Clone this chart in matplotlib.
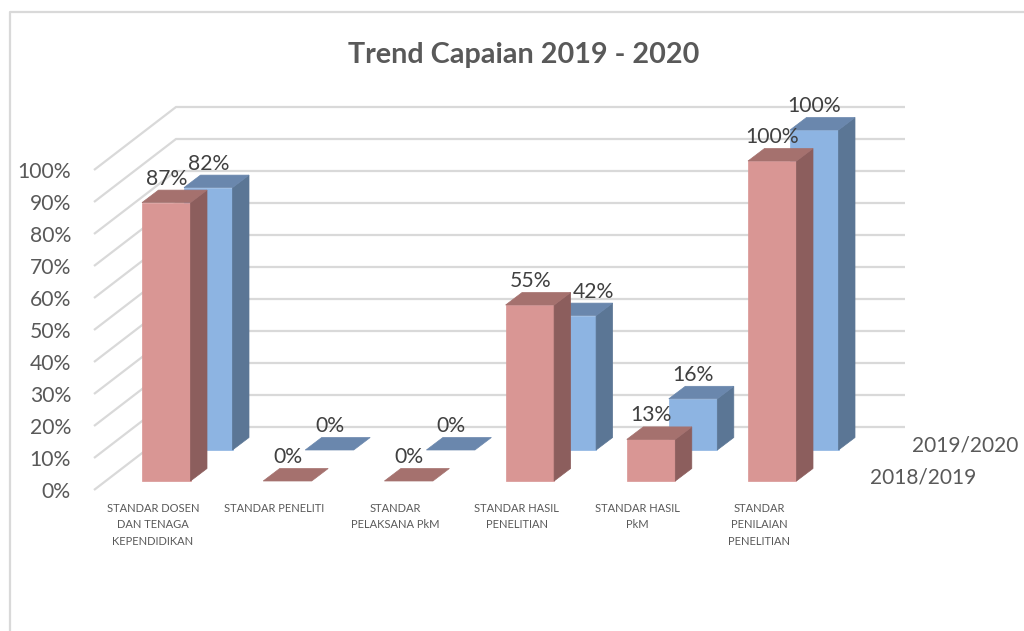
import matplotlib
matplotlib.use("Agg")
import matplotlib.pyplot as plt
from matplotlib.patches import Polygon
from matplotlib.lines import Line2D

plt.rcParams['font.family'] = ['Lato', 'DejaVu Sans']

# Chart data
categories = [
    "STANDAR DOSEN\nDAN TENAGA\nKEPENDIDIKAN",
    "STANDAR PENELITI",
    "STANDAR\nPELAKSANA PkM",
    "STANDAR HASIL\nPENELITIAN",
    "STANDAR HASIL\nPkM",
    "STANDAR\nPENILAIAN\nPENELITIAN",
]
values_2018_2019 = [87, 0, 0, 55, 13, 100]
values_2019_2020 = [82, 0, 0, 42, 16, 100]
percent_ticks = [0, 10, 20, 30, 40, 50, 60, 70, 80, 90, 100]
series_names = ["2018/2019", "2019/2020"]
title_text = "Trend Capaian 2019 - 2020"

# Axis scale: 121.2 px per category along x, 3.2 px per percent along y
W, H = 1024, 631
PX_X, PX_Y = 121.2, 3.2
X0_PX, Y0_PX = 142.0, 481.0


def dx(px):
    return px / PX_X


def dy(px):
    return -px / PX_Y


fig = plt.figure(figsize=(W / 100, H / 100), dpi=100, facecolor="white")
ax = fig.add_axes([0, 0, 1, 1])
ax.set_xlim(-X0_PX / PX_X, (W - X0_PX) / PX_X)
ax.set_ylim((Y0_PX - H) / PX_Y, Y0_PX / PX_Y)
ax.axis("off")

GRID = "#d9d9d9"
TEXT = "#595959"
LABEL = "#404040"

# Outer chart frame
frame_x = [dx(10) - X0_PX / PX_X, dx(10) - X0_PX / PX_X, (W - X0_PX) / PX_X]
frame_y = [(Y0_PX - H) / PX_Y, (Y0_PX - 12) / PX_Y, (Y0_PX - 12) / PX_Y]
ax.add_line(Line2D(frame_x, frame_y, color=GRID, lw=1.6, zorder=1))

# Floor-to-wall gridlines: a slanted run on the side wall, then along the back wall
left_x = dx(94 - X0_PX)
corner_x = dx(176 - X0_PX)
right_x = dx(905 - X0_PX)
for v in percent_ticks:
    front_y = v + dy(490 - Y0_PX)
    back_y = v + dy(427 - Y0_PX)
    ax.add_line(Line2D([left_x, corner_x, right_x], [front_y, back_y, back_y],
                       color=GRID, lw=1.6, zorder=1, solid_joinstyle="miter",
                       solid_capstyle="butt"))
    ax.text(dx(71 - X0_PX), front_y + dy(2.2), f"{v}%", ha="right", va="center",
            fontsize=15.2, color=TEXT, zorder=6)

BAR_W = dx(48.5)
DEPTH_X, DEPTH_Y = dx(16.5), dy(-12.5)


def draw_bar(pos, value, shift_x, shift_y, front, side, top, zorder, label_dx=0.0):
    x0 = pos + shift_x
    x1 = x0 + BAR_W
    y0 = shift_y
    y1 = shift_y + value
    edge = dict(linewidth=0.5, zorder=zorder, joinstyle="miter")
    if value > 0:
        ax.add_patch(Polygon([(x0, y0), (x1, y0), (x1, y1), (x0, y1)],
                             facecolor=front, edgecolor=front, **edge))
        ax.add_patch(Polygon([(x1, y0), (x1 + DEPTH_X, y0 + DEPTH_Y),
                              (x1 + DEPTH_X, y1 + DEPTH_Y), (x1, y1)],
                             facecolor=side, edgecolor=side, **edge))
    ax.add_patch(Polygon([(x0, y1), (x1, y1), (x1 + DEPTH_X, y1 + DEPTH_Y),
                          (x0 + DEPTH_X, y1 + DEPTH_Y)],
                         facecolor=top, edgecolor=top, **edge))
    ax.text(x0 + dx(24.5) + label_dx, y1 + dy(-24), f"{value}%", ha="center", va="center",
            fontsize=15.2, color=LABEL, zorder=7)


# Rear series first so the front row overlaps it
back_sx, back_sy = dx(42), dy(450 - Y0_PX)
for i, v in enumerate(values_2019_2020):
    # The 42% label is pushed right, clear of the taller front bar
    nudge = dx(21) if i == 3 else 0.0
    draw_bar(i, v, back_sx, back_sy, "#8db4e2", "#5b7695", "#6a87ad", 3, nudge)
for i, v in enumerate(values_2018_2019):
    draw_bar(i, v, 0, 0, "#d99694", "#8c5e5d", "#a5716e", 4)

# Category labels sit slightly left of the bars
for i, name in enumerate(categories):
    ax.text(i + dx(11), dy(510 - Y0_PX) + 2.2, name,
            ha="center", va="top", fontsize=8.0, color=TEXT,
            linespacing=1.6, zorder=6)

# Depth-axis series names
ax.text(dx(912 - X0_PX), dy(445 - Y0_PX), series_names[1], ha="left", va="center",
        fontsize=15.0, color=TEXT, zorder=6)
ax.text(dx(870 - X0_PX), dy(477 - Y0_PX), series_names[0], ha="left", va="center",
        fontsize=15.0, color=TEXT, zorder=6)

ax.text(dx(524 - X0_PX), dy(55.5 - Y0_PX), title_text, ha="center", va="center",
        fontsize=20.7, fontweight="bold", color=TEXT, zorder=6)

fig.savefig("out.png", dpi=100)
